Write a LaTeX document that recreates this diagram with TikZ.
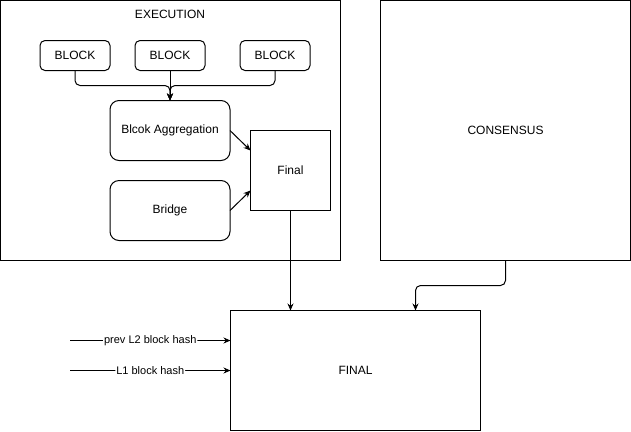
\documentclass[tikz,border=0pt]{standalone}
\usepackage{fontspec}
\setmainfont{Liberation Sans}
\usetikzlibrary{arrows.meta}
\tikzset{
  frame/.style={draw, line width=1bp, inner sep=0pt, outer sep=0pt, font=\fontsize{12bp}{14bp}\selectfont},
  blk/.style={frame, rounded corners=5bp, minimum width=70bp, minimum height=30bp},
  stage/.style={frame, rounded corners=9bp, minimum width=120bp, minimum height=60bp},
  link/.style={-{Stealth[length=7bp,width=6bp]}, line width=1bp, rounded corners=5bp},
  hashlbl/.style={fill=white, inner sep=1bp, font=\fontsize{11bp}{13bp}\selectfont}
}
\begin{document}
\begin{tikzpicture}[x=1bp, y=-1bp]
  \useasboundingbox (0,0) rectangle (631,431);
  % outer frames
  \node[frame, minimum width=340bp, minimum height=260bp] (exec) at (170.5,130.5) {};
  \node[frame, minimum width=250bp, minimum height=260bp] (cons) at (505.5,130.5) {CONSENSUS};
  \node[frame, minimum width=250bp, minimum height=120bp] (final) at (355.5,370.5) {FINAL};
  \node[font=\fontsize{12bp}{14bp}\selectfont] (exectitle) at (170,14) {EXECUTION};
  % execution parts
  \node[blk] (b1) at (75,55.5) {BLOCK};
  \node[blk] (b2) at (170,55.5) {BLOCK};
  \node[blk] (b3) at (275,55.5) {BLOCK};
  \node[stage] (agg) at (170,130.5) {Blcok Aggregation};
  \node[stage] (bridge) at (170,210.5) {Bridge};
  \node[frame, minimum width=80bp, minimum height=80bp] (fin) at (290.5,170.5) {Final};
  % connectors
  \draw[link] (b1.south) -- ++(0,15) -| (agg.north);
  \draw[link] (b3.south) -- ++(0,15) -| (agg.north);
  \draw[link] (b2.south) -- (agg.north);
  \draw[link] (agg.east) -- ([yshift=20bp]fin.west);
  \draw[link] (bridge.east) -- ([yshift=-20bp]fin.west);
  \draw[link] (fin.south) -- (fin.south |- final.north);
  \draw[link] (cons.south) -- ++(0,25) -| ([xshift=60bp]final.north);
  % inputs
  \coordinate (l2in) at (70,340.5);
  \coordinate (l1in) at (70,370.5);
  \draw[link] (l2in) -- node[hashlbl] {prev L2 block hash} (l2in -| final.west);
  \draw[link] (l1in) -- node[hashlbl] {L1 block hash} (l1in -| final.west);
\end{tikzpicture}
\end{document}
